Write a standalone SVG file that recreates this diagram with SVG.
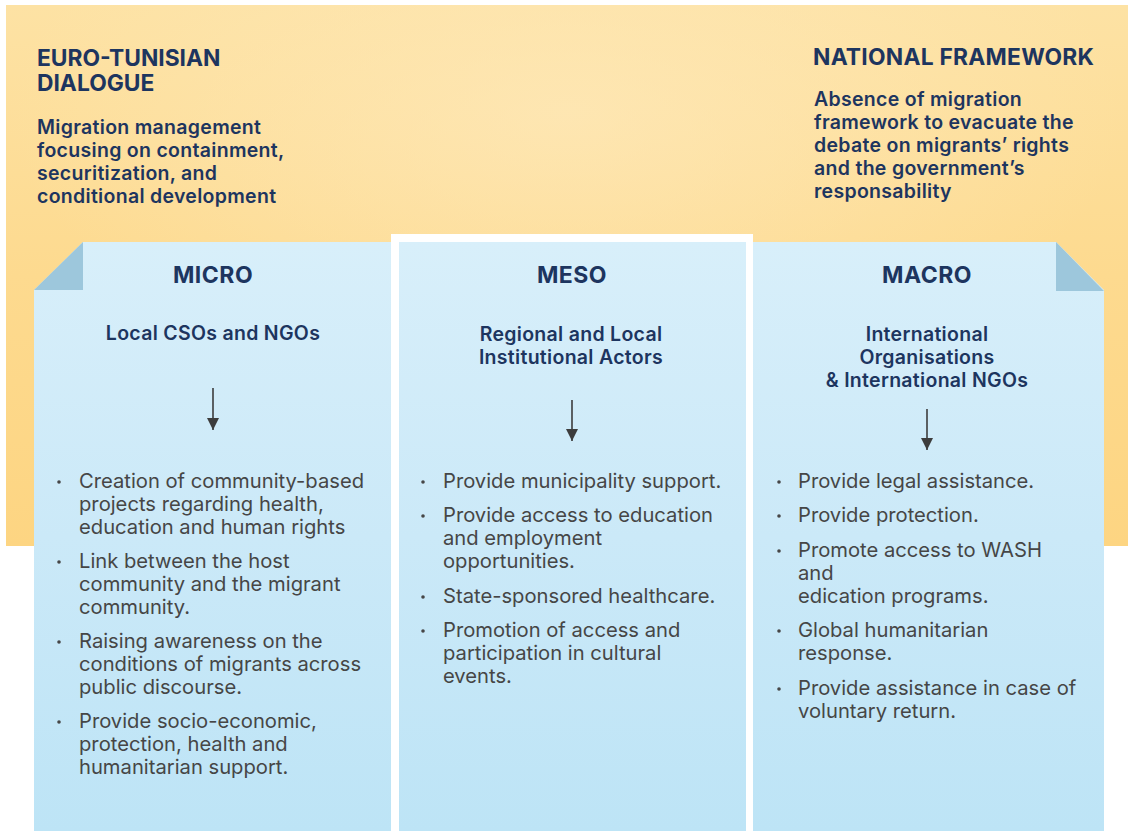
<svg xmlns="http://www.w3.org/2000/svg" width="1128" height="831" viewBox="0 0 1128 831">
  <defs>
    <linearGradient id="yellowGrad" x1="0" y1="0" x2="0" y2="1">
      <stop offset="0" stop-color="#fde2a4"/>
      <stop offset="0.5" stop-color="#fdda8f"/>
      <stop offset="1" stop-color="#fdd582"/>
    </linearGradient>
    <radialGradient id="yellowGlow" cx="0.5" cy="0.2" r="0.5">
      <stop offset="0" stop-color="#fee9bb" stop-opacity="0.7"/>
      <stop offset="1" stop-color="#fee9bb" stop-opacity="0"/>
    </radialGradient>
    <linearGradient id="blueGrad" x1="0" y1="0" x2="0" y2="1">
      <stop offset="0" stop-color="#d8effa"/>
      <stop offset="0.5" stop-color="#cbe9f8"/>
      <stop offset="1" stop-color="#bde4f6"/>
    </linearGradient>
    <marker id="arrowHead" viewBox="0 0 12 12" refX="12" refY="6" markerWidth="12" markerHeight="12" markerUnits="userSpaceOnUse" orient="auto">
      <path d="M0,0 L12,6 L0,12 Z" fill="#3d3d3d"/>
    </marker>
    <style>
      .title { font-family: Inter, "Liberation Sans", sans-serif; font-weight: 700; font-size: 22.8px; fill: #1d355f; }
      .sub { font-family: Inter, "Liberation Sans", sans-serif; font-weight: 600; font-size: 19.5px; letter-spacing: 0.3px; fill: #1d355f; }
      .lvl { font-family: Inter, "Liberation Sans", sans-serif; font-weight: 700; font-size: 23px; letter-spacing: 0.5px; fill: #1d355f; text-anchor: middle; }
      .actor { font-family: Inter, "Liberation Sans", sans-serif; font-weight: 600; font-size: 19.5px; letter-spacing: 0.3px; fill: #1d355f; text-anchor: middle; }
      .bul { font-family: Inter, "Liberation Sans", sans-serif; font-weight: 400; font-size: 20.2px; fill: #464646; }
      .dot { fill: #464646; }
      .panel { fill: url(#blueGrad); }
      .fold { fill: #9dc7dc; }
      .conn { stroke: #3d3d3d; stroke-width: 1.6; fill: none; marker-end: url(#arrowHead); }
    </style>
  </defs>

  <!-- background -->
  <rect x="0" y="0" width="1128" height="831" fill="#ffffff"/>
  <rect x="6" y="5" width="1122" height="541" fill="url(#yellowGrad)"/>
  <rect x="6" y="5" width="1122" height="541" fill="url(#yellowGlow)"/>

  <!-- header left -->
  <g id="euro-tunisian-dialogue">
    <text class="title" x="37" y="66">EURO-TUNISIAN</text>
    <text class="title" x="37" y="91">DIALOGUE</text>
    <text class="sub" x="37" y="134">Migration management</text>
    <text class="sub" x="37" y="157">focusing on containment,</text>
    <text class="sub" x="37" y="180">securitization, and</text>
    <text class="sub" x="37" y="203">conditional development</text>
  </g>

  <!-- header right -->
  <g id="national-framework">
    <text class="title" x="813" y="65" textLength="281">NATIONAL FRAMEWORK</text>
    <text class="sub" x="814" y="106">Absence of migration</text>
    <text class="sub" x="814" y="129">framework to evacuate the</text>
    <text class="sub" x="814" y="152">debate on migrants’ rights</text>
    <text class="sub" x="814" y="175">and the government’s</text>
    <text class="sub" x="814" y="198">responsability</text>
  </g>

  <!-- MICRO panel -->
  <g id="micro">
    <path class="panel" d="M83,242 L391,242 L391,831 L34,831 L34,290 Z"/>
    <path class="fold" d="M83,242 L83,290 L34,290 Z"/>
    <text class="lvl" x="213" y="283">MICRO</text>
    <text class="actor" x="213" y="340">Local CSOs and NGOs</text>
    <g>
      <circle class="dot" cx="59" cy="482" r="1.8"/>
      <text class="bul" x="79" y="488">Creation of community-based</text>
      <text class="bul" x="79" y="511">projects regarding health,</text>
      <text class="bul" x="79" y="534">education and human rights</text>
      <circle class="dot" cx="59" cy="562" r="1.8"/>
      <text class="bul" x="79" y="568">Link between the host</text>
      <text class="bul" x="79" y="591">community and the migrant</text>
      <text class="bul" x="79" y="614">community.</text>
      <circle class="dot" cx="59" cy="642" r="1.8"/>
      <text class="bul" x="79" y="648">Raising awareness on the</text>
      <text class="bul" x="79" y="671">conditions of migrants across</text>
      <text class="bul" x="79" y="694">public discourse.</text>
      <circle class="dot" cx="59" cy="722" r="1.8"/>
      <text class="bul" x="79" y="728">Provide socio-economic,</text>
      <text class="bul" x="79" y="751">protection, health and</text>
      <text class="bul" x="79" y="774">humanitarian support.</text>
    </g>
  </g>

  <!-- MESO panel -->
  <g id="meso">
    <rect x="391" y="234" width="362" height="597" fill="#ffffff"/>
    <rect class="panel" x="399" y="242" width="347" height="589"/>
    <text class="lvl" x="572" y="283">MESO</text>
    <text class="actor" x="571" y="341">Regional and Local</text>
    <text class="actor" x="571" y="364">Institutional Actors</text>
    <g>
      <circle class="dot" cx="423" cy="482" r="1.8"/>
      <text class="bul" x="443" y="488">Provide municipality support.</text>
      <circle class="dot" cx="423" cy="516" r="1.8"/>
      <text class="bul" x="443" y="522">Provide access to education</text>
      <text class="bul" x="443" y="545">and employment</text>
      <text class="bul" x="443" y="568">opportunities.</text>
      <circle class="dot" cx="423" cy="597" r="1.8"/>
      <text class="bul" x="443" y="603">State-sponsored healthcare.</text>
      <circle class="dot" cx="423" cy="631" r="1.8"/>
      <text class="bul" x="443" y="637">Promotion of access and</text>
      <text class="bul" x="443" y="660">participation in cultural</text>
      <text class="bul" x="443" y="683">events.</text>
    </g>
  </g>

  <!-- MACRO panel -->
  <g id="macro">
    <path class="panel" d="M753,242 L1056,242 L1104,290 L1104,831 L753,831 Z"/>
    <path class="fold" d="M1056,242 L1056,291 L1104,291 Z"/>
    <text class="lvl" x="927" y="283">MACRO</text>
    <text class="actor" x="927" y="341">International</text>
    <text class="actor" x="927" y="364">Organisations</text>
    <text class="actor" x="927" y="387">&amp; International NGOs</text>
    <g>
      <circle class="dot" cx="779" cy="482" r="1.8"/>
      <text class="bul" x="798" y="488">Provide legal assistance.</text>
      <circle class="dot" cx="779" cy="516" r="1.8"/>
      <text class="bul" x="798" y="522">Provide protection.</text>
      <circle class="dot" cx="779" cy="551" r="1.8"/>
      <text class="bul" x="798" y="557">Promote access to WASH</text>
      <text class="bul" x="798" y="580">and</text>
      <text class="bul" x="798" y="603">edication programs.</text>
      <circle class="dot" cx="779" cy="631" r="1.8"/>
      <text class="bul" x="798" y="637">Global humanitarian</text>
      <text class="bul" x="798" y="660">response.</text>
      <circle class="dot" cx="779" cy="689" r="1.8"/>
      <text class="bul" x="798" y="695">Provide assistance in case of</text>
      <text class="bul" x="798" y="718">voluntary return.</text>
    </g>
  </g>

  <!-- connectors -->
  <g id="connectors">
    <line class="conn" x1="213" y1="388" x2="213" y2="430"/>
    <line class="conn" x1="572" y1="400" x2="572" y2="441"/>
    <line class="conn" x1="927" y1="409" x2="927" y2="450"/>
  </g>
</svg>
